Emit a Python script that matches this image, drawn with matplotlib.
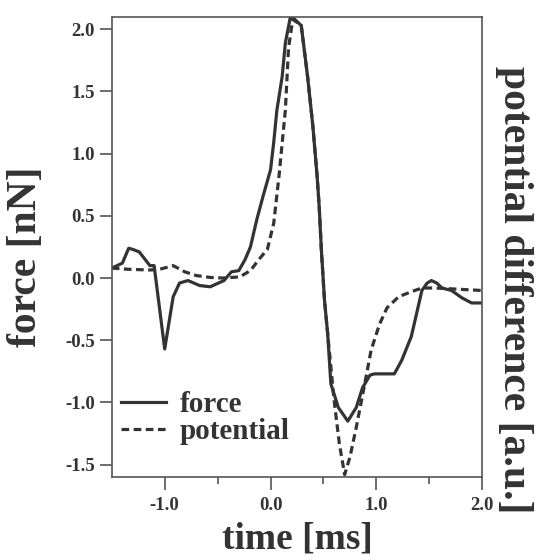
import matplotlib
matplotlib.use('Agg')
import matplotlib.pyplot as plt

# force trace (time in ms, force in nN)
t_force = [-1.5, -1.40, -1.34, -1.30, -1.24, -1.14, -1.10, -1.00, -0.92, -0.86,
           -0.78, -0.67, -0.57, -0.44, -0.37, -0.30, -0.24, -0.19, -0.13, -0.07,
           0.00, 0.03, 0.06, 0.11, 0.14, 0.19, 0.29, 0.35, 0.40, 0.44, 0.46,
           0.48, 0.51, 0.54, 0.57, 0.64, 0.73, 0.81, 0.87, 0.94, 0.98, 1.17,
           1.24, 1.33, 1.43, 1.48, 1.52, 1.57, 1.62, 1.71, 1.81, 1.90, 2.00]
force = [0.08, 0.12, 0.24, 0.23, 0.21, 0.10, 0.10, -0.57, -0.15, -0.04,
         -0.02, -0.06, -0.07, -0.02, 0.05, 0.06, 0.15, 0.25, 0.47, 0.66,
         0.87, 1.09, 1.35, 1.62, 1.89, 2.11, 2.03, 1.62, 1.22, 0.82, 0.57,
         0.23, -0.18, -0.45, -0.85, -1.04, -1.15, -1.04, -0.88, -0.78, -0.77, -0.77,
         -0.66, -0.47, -0.10, -0.04, -0.02, -0.04, -0.08, -0.10, -0.16, -0.20, -0.20]

# potential difference, scaled onto the force axis
t_pot = [-1.5, -1.33, -1.14, -1.05, -0.92, -0.81, -0.70, -0.57, -0.44, -0.29,
         -0.19, -0.10, -0.03, 0.03, 0.08, 0.14, 0.17, 0.21, 0.29, 0.35,
         0.40, 0.44, 0.46, 0.48, 0.51, 0.54, 0.60, 0.65, 0.70, 0.75, 0.81,
         0.89, 0.95, 1.03, 1.10, 1.21, 1.33, 1.43, 1.56, 2.00]
potential = [0.08, 0.07, 0.065, 0.07, 0.10, 0.05, 0.02, 0.005, 0.0, 0.01,
             0.06, 0.16, 0.23, 0.44, 0.82, 1.35, 1.85, 2.08, 2.03, 1.62,
             1.22, 0.82, 0.57, 0.23, -0.18, -0.45, -0.98, -1.33, -1.58, -1.44, -1.20,
             -0.85, -0.58, -0.37, -0.24, -0.15, -0.11, -0.08, -0.08, -0.10]

x_ticks = [-1.0, 0.0, 1.0, 2.0]
y_ticks = [-1.5, -1.0, -0.5, 0.0, 0.5, 1.0, 1.5, 2.0]

plt.rcParams['font.family'] = 'Liberation Serif'
plt.rcParams['font.weight'] = 'bold'
plt.rcParams['axes.labelweight'] = 'bold'
ink = '#333333'

fig = plt.figure(figsize=(5.4, 5.6), dpi=100)
ax = fig.add_axes([0.207, 0.148, 0.686, 0.822])

ax.plot(t_force, force, color=ink, lw=2.3, label='force')
ax.plot(t_pot, potential, color=ink, lw=2.3, ls=(0, (2.4, 1.4)), label='potential')

ax.set_xlim(-1.5, 2.0)
ax.set_ylim(-1.6, 2.1)
ax.set_xticks(x_ticks)
ax.set_xticklabels(['%.1f' % v for v in x_ticks])
ax.set_xticks([-0.5, 0.5, 1.5], minor=True)
ax.set_yticks(y_ticks)
ax.set_yticklabels(['%.1f' % v for v in y_ticks])

for s in ax.spines.values():
    s.set_color('#555555')
    s.set_linewidth(1.2)
ax.tick_params(axis='both', which='major', direction='out', length=9, width=1.2,
               color='#555555', labelsize=13.5, labelcolor=ink, pad=3)
ax.tick_params(axis='x', which='major', pad=5)
ax.tick_params(axis='x', which='minor', direction='out', length=5, width=1.2, color='#555555')
ax.tick_params(axis='y', right=False)

ax.set_xlabel('time [ms]', fontsize=27, color=ink, labelpad=6)

# y labels placed directly in figure coordinates
fig.text(0.048, 0.541, 'force [nN]', fontsize=30, fontweight='bold', color=ink,
         rotation=90, ha='center', va='center')
fig.text(0.952, 0.482, 'potential difference [a.u.]', fontsize=30, fontweight='bold',
         color=ink, rotation=270, ha='center', va='center')

leg = ax.legend(loc='lower left', bbox_to_anchor=(0.025, 0.07), frameon=False,
                fontsize=21, handlelength=1.55, handletextpad=0.45,
                labelspacing=0.0, borderaxespad=0.0, borderpad=0.0)
for txt in leg.get_texts():
    txt.set_color(ink)

fig.savefig('out.png', dpi=100)
